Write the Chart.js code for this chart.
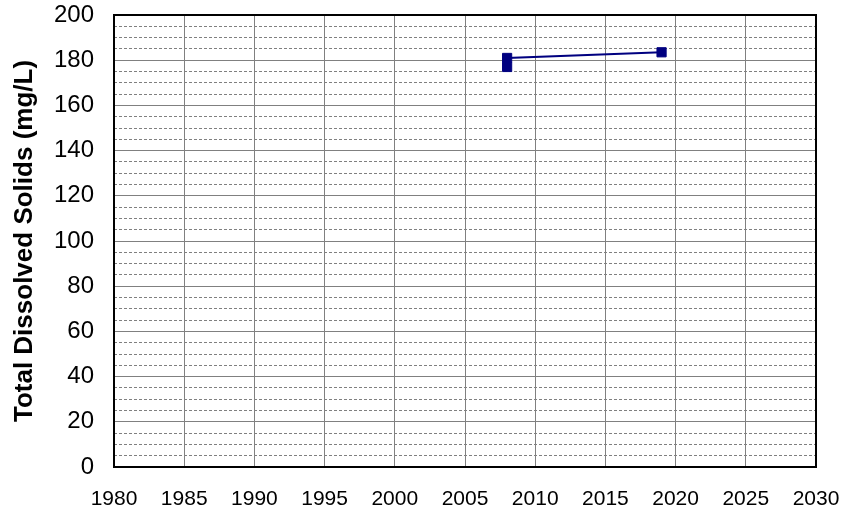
<!DOCTYPE html>
<html>
<head>
<meta charset="utf-8">
<script src="https://cdn.jsdelivr.net/npm/chart.js@4/dist/chart.umd.min.js"></script>
<style>
html,body{margin:0;padding:0;background:#fff;}
#wrap{width:842px;height:516px;position:relative;}
</style>
</head>
<body>
<div id="wrap"><canvas id="c" width="842" height="516"></canvas></div>
<script>
const years = [2008, 2008, 2019];
const tdsValues = [177, 181, 183.5];
const xTicks = [1980, 1985, 1990, 1995, 2000, 2005, 2010, 2015, 2020, 2025, 2030];
const yTicks = [0, 20, 40, 60, 80, 100, 120, 140, 160, 180, 200];
const yTitle = 'Total Dissolved Solids (mg/L)';

const points = years.map((x, i) => ({x: x, y: tdsValues[i]}));

const frame = {
  id: 'frame',
  afterDraw(chart) {
    const a = chart.chartArea, ctx = chart.ctx;
    ctx.save();
    ctx.strokeStyle = '#000';
    ctx.lineWidth = 2;
    ctx.strokeRect(a.left, a.top, a.right - a.left, a.bottom - a.top);
    ctx.restore();
  }
};

function noPad(s) {
  s.paddingLeft = 0; s.paddingRight = 0; s.paddingTop = 0; s.paddingBottom = 0;
}

new Chart(document.getElementById('c'), {
  type: 'scatter',
  data: {
    datasets: [{
      data: points,
      showLine: true,
      borderColor: '#000080',
      backgroundColor: '#000080',
      borderWidth: 2,
      pointStyle: 'rect',
      pointRadius: 6.5,
      pointBorderWidth: 1,
      pointBorderColor: '#000080',
      pointBackgroundColor: '#000080'
    }]
  },
  plugins: [frame],
  options: {
    responsive: false,
    animation: false,
    layout: {autoPadding: false, padding: {top: 15, right: 26, bottom: 0, left: 0}},
    plugins: {legend: {display: false}, tooltip: {enabled: false}},
    scales: {
      x: {
        type: 'linear',
        min: xTicks[0], max: xTicks[xTicks.length - 1],
        afterBuildTicks(s) { s.ticks = xTicks.map(v => ({value: v})); },
        afterFit(s) { s.height = 49; noPad(s); },
        grid: {color: '#808080', lineWidth: 1, drawTicks: false},
        border: {display: false},
        ticks: {
          padding: 20,
          color: '#000',
          font: {family: 'Arial, "Liberation Sans"', size: 21},
          callback: v => String(v)
        }
      },
      yMinor: {
        type: 'linear',
        position: 'left',
        min: 0, max: 200,
        ticks: {display: false, stepSize: 5},
        afterFit(s) { s.width = 0; noPad(s); },
        grid: {
          color: ctx => (ctx.tick && ctx.tick.value % 20 === 0) ? 'rgba(0,0,0,0)' : '#808080',
          lineWidth: 1,
          drawTicks: false
        },
        border: {display: false, dash: [3, 2]}
      },
      y: {
        type: 'linear',
        position: 'left',
        min: 0, max: 200,
        afterBuildTicks(s) { s.ticks = yTicks.map(v => ({value: v})); },
        afterFit(s) { s.width = 114; noPad(s); },
        grid: {color: '#808080', lineWidth: 1, drawTicks: false},
        border: {display: false},
        ticks: {
          padding: 20,
          color: '#000',
          font: {family: 'Arial, "Liberation Sans"', size: 24}
        },
        title: {
          display: true,
          text: yTitle,
          color: '#000',
          font: {family: 'Arial, "Liberation Sans"', size: 26, weight: 'bold'},
          padding: {top: 9, bottom: 0}
        }
      }
    }
  }
});
</script>
</body>
</html>
